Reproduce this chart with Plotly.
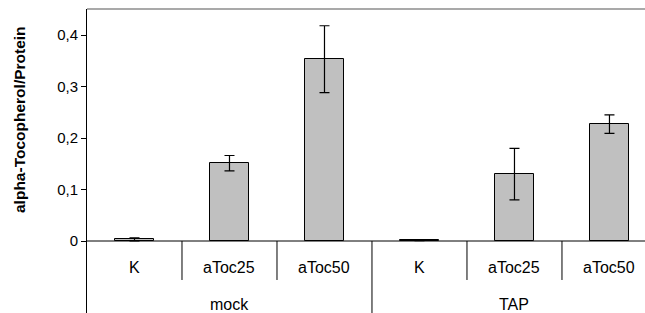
import plotly.graph_objects as go

groups = ["mock", "TAP"]
categories = ["K", "aToc25", "aToc50", "K", "aToc25", "aToc50"]
values = [0.003, 0.151, 0.353, 0.001, 0.130, 0.227]
errors = [0.003, 0.015, 0.065, 0.0005, 0.050, 0.018]
ytick_vals = [0, 0.1, 0.2, 0.3, 0.4]
ytick_text = ["0", "0,1", "0,2", "0,3", "0,4"]
y_title = "alpha-Tocopherol/Protein"

xpos = list(range(len(categories)))
font_family = "Liberation Sans, Arial, sans-serif"

fig = go.Figure()
fig.add_trace(go.Bar(
    x=xpos, y=values, width=0.41,
    marker=dict(color="#C0C0C0", line=dict(color="black", width=1)),
    error_y=dict(type="data", array=errors, visible=True,
                 color="black", thickness=1.2, width=5),
    showlegend=False,
))

ymin, ymax = -0.1398, 0.4505
x_right = 5.374

shapes = []
# zero line
shapes.append(dict(type="line", xref="x", yref="y", x0=-0.5, x1=x_right, y0=0, y1=0,
                   line=dict(color="black", width=1)))
# top border
shapes.append(dict(type="line", xref="paper", yref="paper", x0=0, x1=1, y0=1, y1=1,
                   line=dict(color="#8c8c8c", width=1.5)))
# category dividers
n_per = len(categories) // len(groups)
for i in range(1, len(categories)):
    if i % n_per == 0:
        y_end = ymin
    else:
        y_end = -0.0757
    shapes.append(dict(type="line", xref="x", yref="y", x0=i - 0.5, x1=i - 0.5,
                       y0=0, y1=y_end, line=dict(color="black", width=1)))

annotations = []
for i, c in enumerate(categories):
    annotations.append(dict(x=i, y=-0.0505, xref="x", yref="y", text=c, showarrow=False,
                            font=dict(size=16, color="black", family=font_family),
                            xanchor="center", yanchor="middle"))
for g, name in enumerate(groups):
    annotations.append(dict(x=g * n_per + (n_per - 1) / 2, y=-0.124, xref="x", yref="y",
                            text=name, showarrow=False,
                            font=dict(size=16, color="black", family=font_family),
                            xanchor="center", yanchor="middle"))
annotations.append(dict(x=(19 - 87) / 558, y=(313 - 120) / 304, xref="paper", yref="paper",
                        text="<b>" + y_title + "</b>", textangle=-90, showarrow=False,
                        font=dict(size=15.5, color="black", family=font_family),
                        xanchor="center", yanchor="middle"))

fig.update_layout(
    width=645, height=313,
    margin=dict(l=87, r=0, t=9, b=0),
    paper_bgcolor="white", plot_bgcolor="white",
    shapes=shapes, annotations=annotations,
    font=dict(family=font_family, size=15, color="black"),
    xaxis=dict(range=[-0.5, x_right], showticklabels=False, showgrid=False,
               zeroline=False, showline=False, ticks=""),
    yaxis=dict(range=[ymin, ymax], tickvals=ytick_vals, ticktext=ytick_text,
               ticks="outside", ticklen=5, tickcolor="black", tickwidth=1,
               showline=True, linecolor="black", linewidth=1,
               showgrid=False, zeroline=False,
               tickfont=dict(size=15, family=font_family, color="black")),
    bargap=0,
)

fig.write_html("out.html", config={"displayModeBar": False})

# remove default page margin so the figure fills the window exactly
with open("out.html", "r", encoding="utf-8") as f:
    html = f.read()
html = html.replace("<body>", '<body style="margin:0;padding:0;overflow:hidden">', 1)
with open("out.html", "w", encoding="utf-8") as f:
    f.write(html)
